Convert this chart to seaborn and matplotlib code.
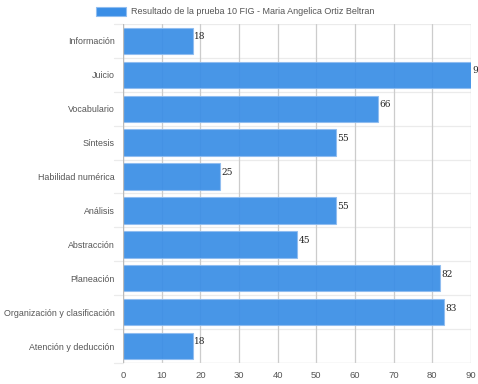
import pandas as pd
import numpy as np
import matplotlib
matplotlib.use("Agg")
import matplotlib.pyplot as plt
import seaborn as sns
from matplotlib.patches import Rectangle

# Data
categories = ['Información', 'Juicio', 'Vocabulario', 'Síntesis', 'Habilidad numérica',
              'Análisis', 'Abstracción', 'Planeación', 'Organización y clasificación',
              'Atención y deducción']
scores = [18, 90, 66, 55, 25, 55, 45, 82, 83, 18]
x_ticks = [0, 10, 20, 30, 40, 50, 60, 70, 80, 90]
legend_label = 'Resultado de la prueba 10 FIG - Maria Angelica Ortiz Beltran'

sns.set_style('white')
plt.rcParams['font.family'] = ['Liberation Sans', 'DejaVu Sans']

df = pd.DataFrame({'Categoria': categories, 'Puntaje': scores})

fig = plt.figure(figsize=(4.78, 3.84), dpi=100)
ax = fig.add_axes([0.2573, 0.0547, 0.7281, 0.8828])

bar_color = '#3a8ee6'
ax.set_axisbelow(True)
sns.barplot(data=df, x='Puntaje', y='Categoria', color=bar_color, alpha=0.93,
            width=0.78, edgecolor='#8fbdf0', linewidth=0.8, saturation=1, ax=ax)

ax.set_xlim(0, 90)
ax.set_ylim(len(categories) - 0.5, -0.5)
ax.set_xticks(x_ticks)
ax.set_xticklabels([str(t) for t in x_ticks], fontsize=6.8, color='#555555')
ax.tick_params(axis='y', labelsize=6.4, labelcolor='#555555', length=0, pad=6)
ax.tick_params(axis='x', length=4, color='#dddddd', pad=2)
ax.set_xlabel('')
ax.set_ylabel('')

# vertical grid and category separators
ax.grid(axis='x', color='#cccccc', linewidth=0.9)
for b in np.arange(-0.5, len(categories) + 0.5, 1):
    ax.axhline(b, color='#ebebeb', linewidth=0.9, zorder=0)
    ax.plot([-0.025, 0], [b, b], transform=ax.get_yaxis_transform(),
            color='#ebebeb', linewidth=0.9, clip_on=False)

for s in ax.spines.values():
    s.set_visible(False)
ax.axvline(0, color='#bbbbbb', linewidth=0.9, zorder=3)
ax.axhline(len(categories) - 0.5, color='#dddddd', linewidth=0.9, zorder=3)

# value labels
for i, v in enumerate(scores):
    ax.text(v + 0.4, i - 0.12, str(v), fontsize=6.5, family='DejaVu Serif',
            va='center', ha='left', color='#222222', clip_on=False)

# legend at the top
fig.patches.append(Rectangle((96 / 478, 1 - 16 / 384), 30 / 478, 9 / 384,
                             transform=fig.transFigure, facecolor=bar_color,
                             edgecolor='#8fbdf0', linewidth=0.8))
fig.text(131 / 478, 1 - 11.5 / 384, legend_label, fontsize=6.5, color='#555555',
         va='center', ha='left')

fig.savefig('out.png', dpi=100)
